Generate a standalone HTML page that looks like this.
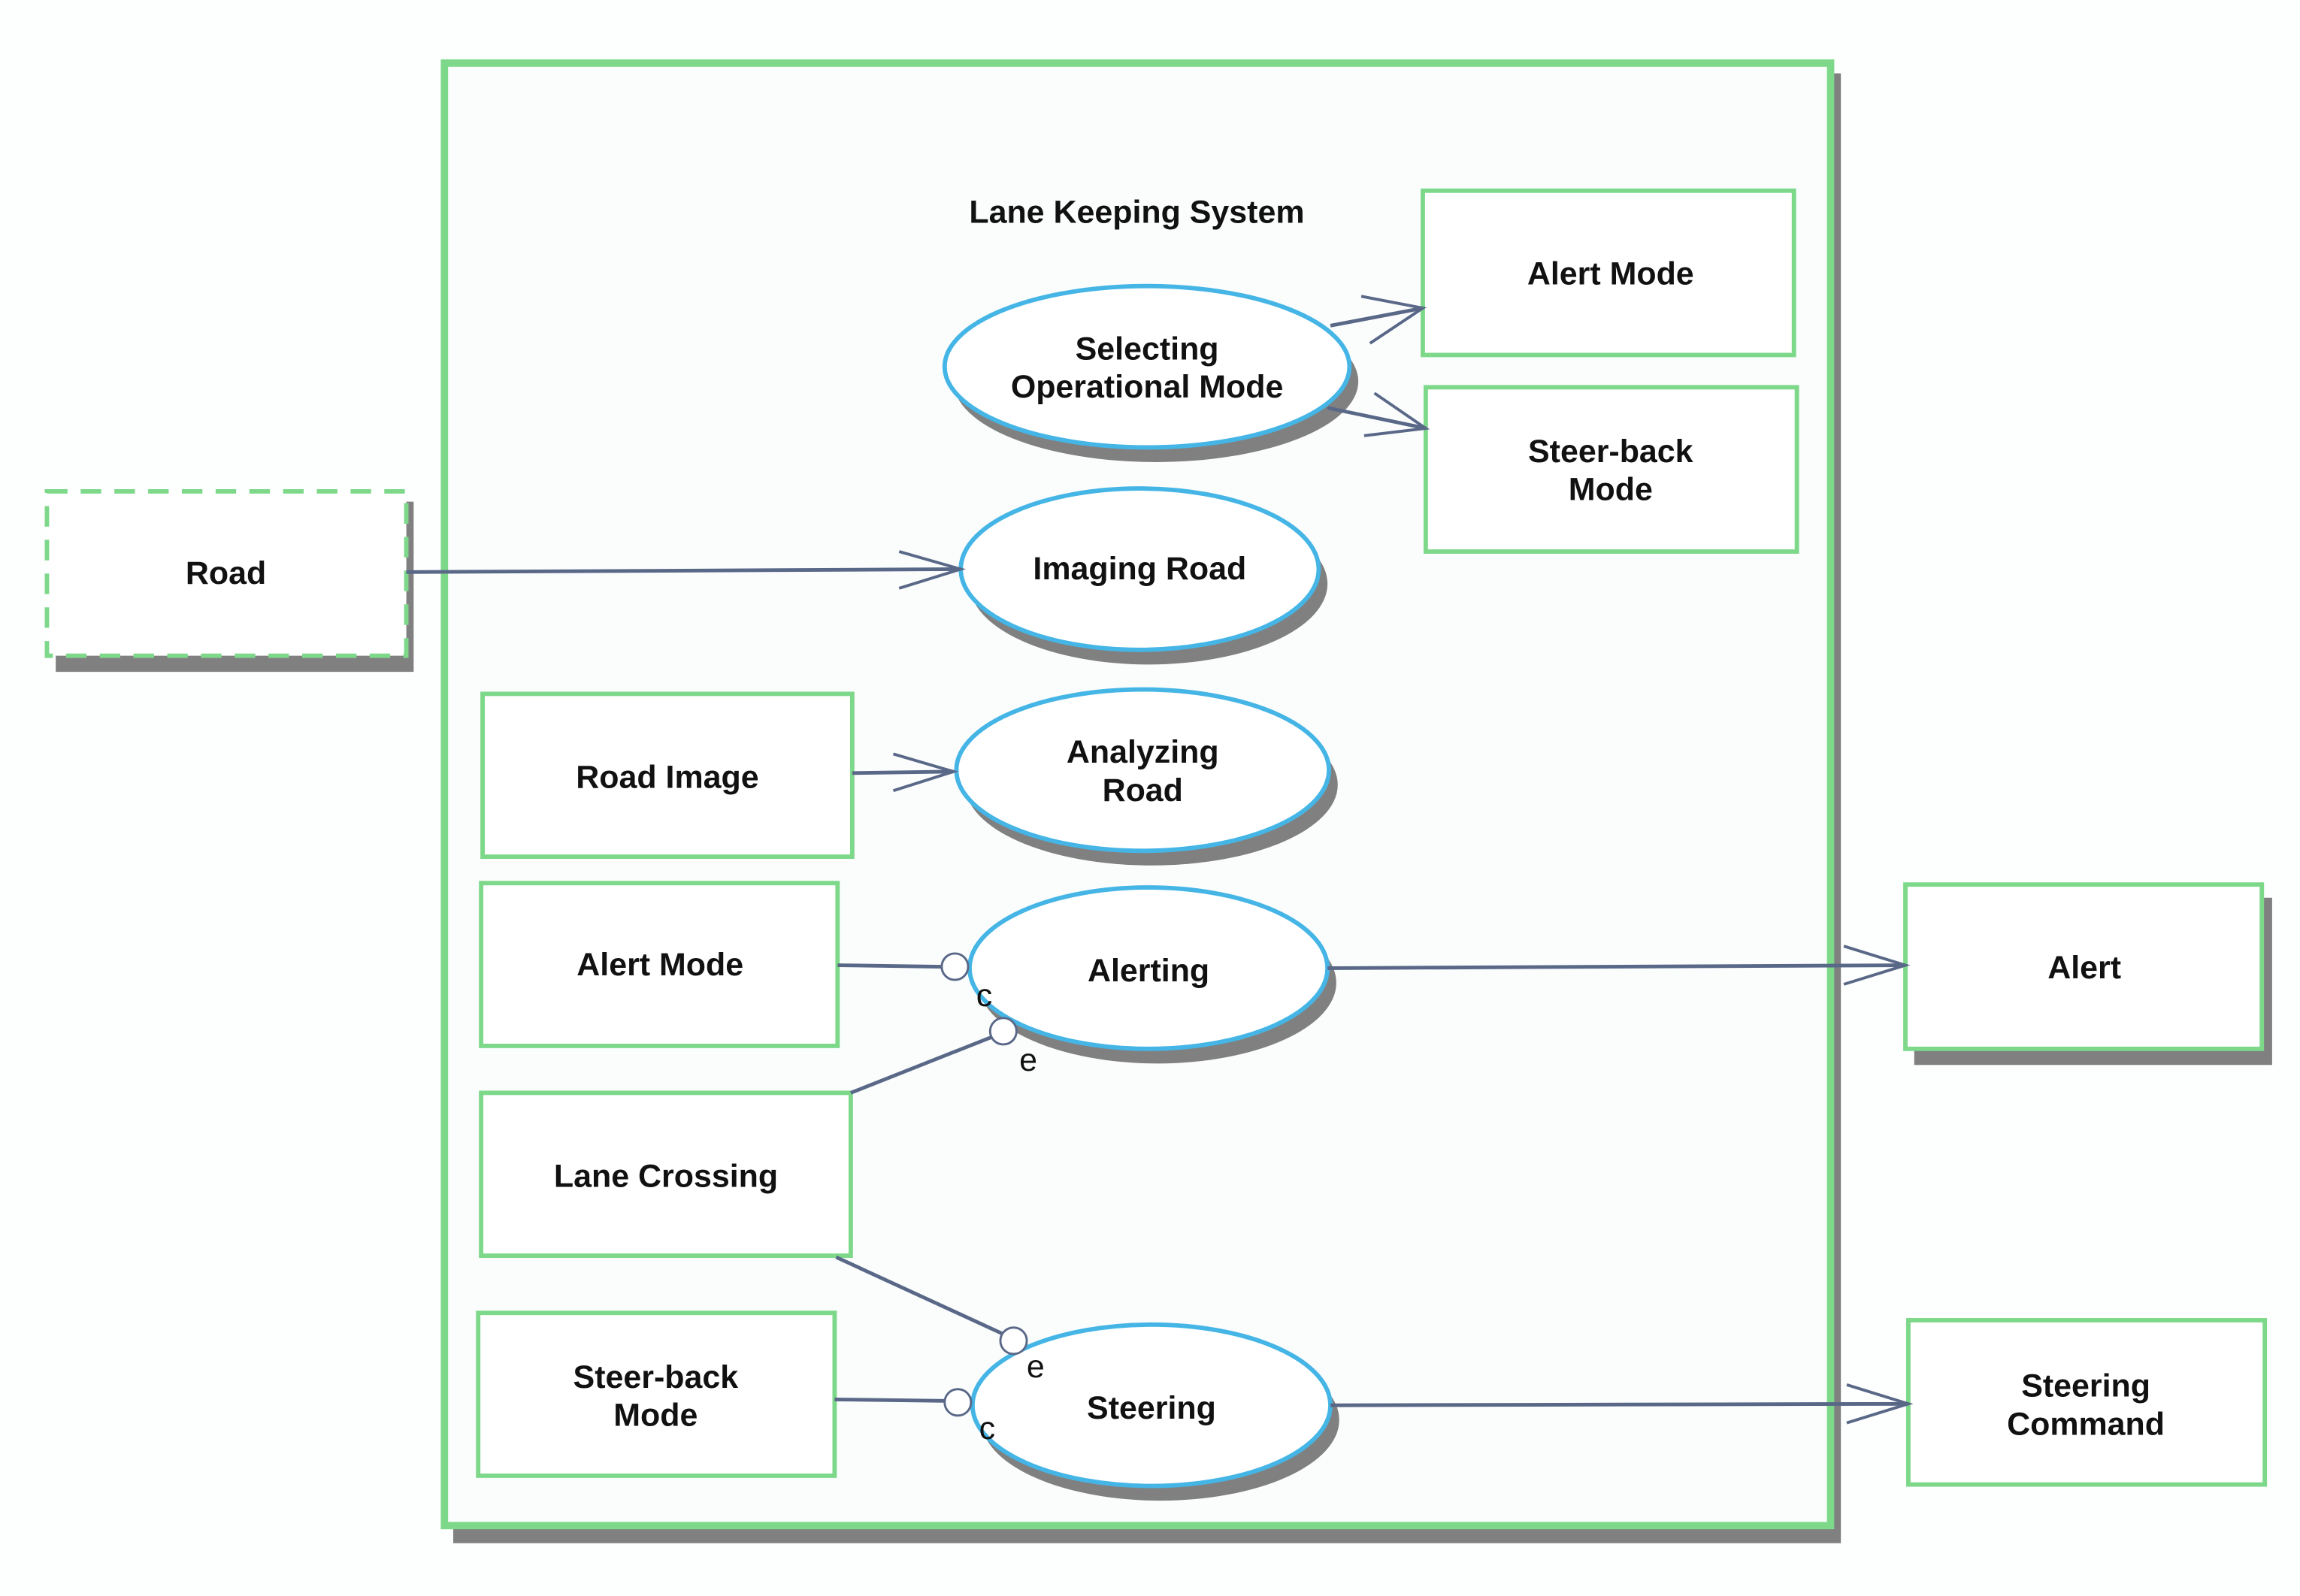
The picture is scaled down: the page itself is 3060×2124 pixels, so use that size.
<!DOCTYPE html>
<html><head><meta charset="utf-8"><style>
html,body{margin:0;padding:0;background:#fdfefe;}
svg{display:block;}
text{font-family:"Liberation Sans",Arial,sans-serif;font-weight:bold;font-size:22px;fill:#111;text-anchor:middle;}
.n{font-weight:normal;}
.box{fill:#fff;stroke:#7dd88a;stroke-width:3;}
.sh{fill:#808080;}
.ell{fill:#fff;stroke:#45b5e6;stroke-width:3;}
.ln{stroke:#5a6888;stroke-width:2.5;fill:none;}
.ar{stroke:#5a6888;stroke-width:2;fill:none;}
.pc{fill:#fff;stroke:#5a6888;stroke-width:1.5;}
</style></head><body>
<svg width="3060" height="2124" viewBox="0 0 1568 1088" preserveAspectRatio="none" xmlns="http://www.w3.org/2000/svg">
<rect width="1568" height="1088" fill="#fdfefe"/>
<!-- outer system box -->
<rect x="309" y="50" width="946" height="1002" class="sh"/>
<rect x="303" y="43" width="945" height="997" fill="#fbfdfd" stroke="#7dd88a" stroke-width="5"/>
<text x="775" y="152">Lane Keeping System</text>

<!-- Road dashed -->
<rect x="38" y="342" width="244" height="116" class="sh"/>
<rect x="32" y="335" width="245" height="112" fill="#fff" stroke="#7dd88a" stroke-width="3" stroke-dasharray="14,9"/>
<text x="154" y="398">Road</text>

<!-- Right boxes top -->
<rect x="970" y="130" width="253" height="112" class="box"/>
<text x="1098" y="194">Alert Mode</text>
<rect x="972" y="264" width="253" height="112" class="box"/>
<text x="1098" y="315">Steer-back</text><text x="1098" y="341">Mode</text>

<!-- ellipses with shadows -->
<ellipse cx="788" cy="260" rx="138" ry="55" class="sh"/>
<ellipse cx="782" cy="250" rx="138" ry="55" class="ell"/>
<text x="782" y="245">Selecting</text><text x="782" y="271">Operational Mode</text>

<ellipse cx="783" cy="398" rx="122" ry="55" class="sh"/>
<ellipse cx="777" cy="388" rx="122" ry="55" class="ell"/>
<text x="777" y="395">Imaging Road</text>

<ellipse cx="785" cy="535" rx="127" ry="55" class="sh"/>
<ellipse cx="779" cy="525" rx="127" ry="55" class="ell"/>
<text x="779" y="520">Analyzing</text><text x="779" y="546">Road</text>

<ellipse cx="789" cy="670" rx="122" ry="55" class="sh"/>
<ellipse cx="783" cy="660" rx="122" ry="55" class="ell"/>
<text x="783" y="669">Alerting</text>

<ellipse cx="791" cy="968" rx="122" ry="55" class="sh"/>
<ellipse cx="785" cy="958" rx="122" ry="55" class="ell"/>
<text x="785" y="967">Steering</text>

<!-- left boxes -->
<rect x="329" y="473" width="252" height="111" class="box"/>
<text x="455" y="537">Road Image</text>
<rect x="328" y="602" width="243" height="111" class="box"/>
<text x="450" y="665">Alert Mode</text>
<rect x="328" y="745" width="252" height="111" class="box"/>
<text x="454" y="809">Lane Crossing</text>
<rect x="326" y="895" width="243" height="111" class="box"/>
<text x="447" y="946">Steer-back</text><text x="447" y="972">Mode</text>

<!-- right boxes -->
<rect x="1305" y="612" width="244" height="114" class="sh"/>
<rect x="1299" y="603" width="243" height="112" class="box"/>
<text x="1421" y="667">Alert</text>
<rect x="1301" y="900" width="243" height="112" class="box"/>
<text x="1422" y="952">Steering</text><text x="1422" y="978">Command</text>

<!-- connectors -->
<line x1="277" y1="390" x2="655" y2="388" class="ln"/>
<polyline points="613,376 655,388 613,401" class="ar"/>
<line x1="581" y1="527" x2="650" y2="526" class="ln"/>
<polyline points="609,514 650,526 609,539" class="ar"/>
<line x1="907" y1="222" x2="970" y2="210" class="ln"/>
<polyline points="928,202 970,210 934,234" class="ar"/>
<line x1="905" y1="278" x2="972" y2="292" class="ln"/>
<polyline points="937,268 972,292 930,297" class="ar"/>
<line x1="905" y1="660" x2="1299" y2="658" class="ln"/>
<polyline points="1257,645 1299,658 1257,671" class="ar"/>
<line x1="907" y1="958" x2="1301" y2="957" class="ln"/>
<polyline points="1259,944 1301,957 1259,970" class="ar"/>

<line x1="571" y1="658" x2="642" y2="659" class="ln"/>
<circle cx="651" cy="659" r="9" class="pc"/>
<line x1="580" y1="745" x2="676" y2="707" class="ln"/>
<circle cx="684" cy="703" r="9" class="pc"/>
<line x1="570" y1="857" x2="683" y2="909" class="ln"/>
<circle cx="691" cy="914" r="9" class="pc"/>
<line x1="569" y1="954" x2="644" y2="955" class="ln"/>
<circle cx="653" cy="956" r="9" class="pc"/>

<text x="671" y="686" class="n">c</text>
<text x="701" y="730" class="n">e</text>
<text x="706" y="939" class="n">e</text>
<text x="673" y="981" class="n">c</text>
</svg>
</body></html>
